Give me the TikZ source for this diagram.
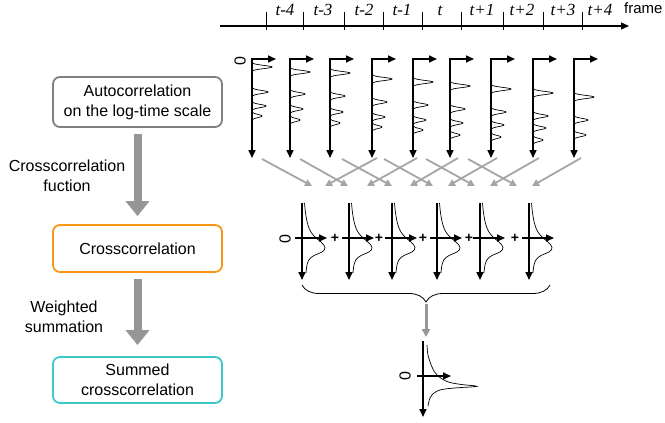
\documentclass[tikz,border=0pt]{standalone}
\usepackage{fontspec}
\setmainfont{Liberation Sans}
\newfontfamily\tnr{Liberation Serif}
\usetikzlibrary{arrows.meta,decorations.pathreplacing,calc}
\definecolor{boxgray}{RGB}{128,128,128}
\definecolor{boxorange}{RGB}{250,150,20}
\definecolor{boxcyan}{RGB}{60,200,200}
\definecolor{arrgray}{RGB}{150,150,150}
\definecolor{lightarr}{RGB}{165,165,165}
\begin{document}
\begin{tikzpicture}[x=1pt,y=-1pt,
  >={Triangle[length=8pt,width=7pt]},
  ax/.style={line width=1.6pt, black},
  peak/.style={line width=0.7pt},
  box/.style={draw, rounded corners=7pt, line width=1.8pt, minimum width=169pt, align=center, font=\fontsize{16}{20}\selectfont, inner sep=0pt},
  bigarrow/.style={draw=arrgray, line width=8pt, -{Triangle[length=15pt,width=23pt]}},
  garrow/.style={draw=lightarr, line width=1.8pt, -{Triangle[length=7pt,width=7pt]}},
  lbl/.style={align=center, font=\fontsize{16}{20}\selectfont},
  zero/.style={rotate=90, font=\fontsize{16}{16}\selectfont, inner sep=0pt},
  tlab/.style={anchor=base, font=\tnr\itshape\fontsize{17}{17}\selectfont, inner sep=0pt},
  plus/.style={font=\bfseries\fontsize{14}{14}\selectfont, inner sep=0pt}]
\useasboundingbox (0,0) rectangle (665,423);

% ---------- left flow ----------
\node[box, draw=boxgray, minimum height=50pt] (b1) at (137.5,102) {Autocorrelation\\on the log-time scale};
\node[box, draw=boxorange, minimum height=47pt] (b2) at (137.5,248.5) {Crosscorrelation};
\node[box, draw=boxcyan, minimum height=46pt] (b3) at (137.5,380) {Summed\\crosscorrelation};
\draw[bigarrow] ([yshift=-6pt]b1.south) -- ([yshift=8pt]b2.north);
\draw[bigarrow] ([yshift=-6pt]b2.south) -- ([yshift=11pt]b3.north);
\node[lbl] (l1) at (67,176) {Crosscorrelation\\fuction};
\node[lbl] (l2) at (64,317) {Weighted\\summation};

% ---------- time line ----------
\coordinate (tlA) at (220,26);
\coordinate (tlB) at (629,26);
\draw[line width=1.3pt, ->] (tlA) -- (tlB);
\foreach \t in {266,303,344,383,422,461,503,543,582}
  \draw[line width=0.8pt] (\t,12) -- (\t,30);
\foreach \x/\s in {285/t-4,323/t-3,364/t-2,402/t-1,440/t,482/t+1,522/t+2,563/t+3,600/t+4}
  \node[tlab] at (\x,16) {\s};
\node[anchor=base west, font=\fontsize{15}{15}\selectfont, inner sep=0pt] (fr) at (624,13) {frame};

% ---------- autocorrelation plots ----------
\node[zero] (z1) at (240,61) {0};
\foreach \xx/\plist in {
  252/{67/20,92/16,106/14,116/10},
  290/{72/20,94/15,109/13,120/10},
  330/{73/20,96/15,112/13,123/10},
  372/{79/20,102/15,117/13,127/10},
  413/{82/20,105/15,120/13,130/10},
  450/{86/20,109/15,123/13,135/10},
  491/{89/20,112/15,125/13,137/10},
  533/{93/20,116/15,128/13,140/10},
  574/{97/20,120/14,135/12}} {
  \draw[ax,<->] (\xx+24,59) -- (\xx,59) -- (\xx,158);
  \foreach \py/\amp in \plist {
    \draw[peak] plot[domain=-5:5, samples=25, smooth] ({\xx+\amp*exp(-((\x)*(\x))/4.84)}, {\py+\x});
  }
}

% ---------- gray cross arrows ----------
\foreach \i/\sx/\ex in {1/262/312, 2/300/348, 3/342/392, 4/384/433, 5/426/475, 6/468/517} {
  \coordinate (ds\i) at (\sx,159);
  \coordinate (de\i) at (\ex,186);
  \draw[garrow] (ds\i) -- (de\i);
}
\foreach \i/\sx/\ex in {1/377/325, 2/417/367, 3/458/410, 4/497/448, 5/539/490, 6/581/532} {
  \coordinate (us\i) at (\sx,158);
  \coordinate (ue\i) at (\ex,186);
  \draw[garrow] (us\i) -- (ue\i);
}

% ---------- crosscorrelation plots ----------
\node[zero] (z2) at (285,239) {0};
\foreach \X in {302,349,392,437,480,529} {
  \draw[ax,->] (\X,203) -- (\X,280);
  \draw[ax,->] (\X-7,238) -- (\X+25,238);
  \draw[peak, shift={(\X,0)}] plot[smooth, tension=0.7] coordinates
    {(2.5,203) (4,216) (7,228) (12,236) (19,242) (23,247.5) (20,252) (12,255.5) (6.5,260.5) (4.5,268) (4,273)};
}
\foreach \p in {335,379,423,469,515}
  \node[plus] at (\p,238) {+};

% ---------- brace and summation ----------
\coordinate (brL) at (302,285);
\coordinate (brR) at (550,285);
\draw[line width=0.8pt, decorate, decoration={brace, mirror, amplitude=17pt}] (brL) -- (brR);
\coordinate (sa) at (426,304);
\coordinate (sb) at (426,337);
\draw[draw=arrgray, line width=3pt, -{Triangle[length=8pt,width=8pt]}] (sa) -- (sb);

\node[zero] (z3) at (405,376) {0};
\draw[ax,->] (423,341) -- (423,417);
\draw[ax,->] (417,376) -- (451,376);
\draw[peak] plot[smooth, tension=0.6] coordinates
  {(427,345) (428,355) (432,367) (437,375) (447,381.5) (460,384.3) (477,386.3) (460,387.6) (448,388.6) (440,390) (434,393) (430,398) (428,406)};
\end{tikzpicture}
\end{document}
